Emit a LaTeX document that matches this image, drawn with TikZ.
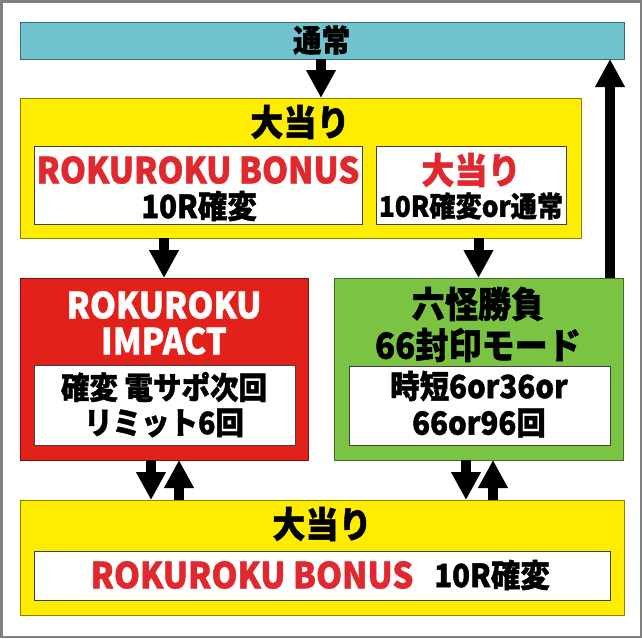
\documentclass[tikz,border=0pt]{standalone}
\usepackage{fontspec}
\setmainfont{Noto Sans CJK JP}[FakeStretch=0.92,FakeBold=1.2]
\usetikzlibrary{arrows.meta,calc}
\definecolor{cblue}{HTML}{6FC3CF}
\definecolor{cyellow}{HTML}{FFED00}
\definecolor{cred}{HTML}{E3211B}
\definecolor{cgreen}{HTML}{7BC443}
\definecolor{ctred}{HTML}{E1282E}
\newcommand{\fsz}[1]{\fontsize{#1}{#1}\selectfont\bfseries}
\begin{document}
\begin{tikzpicture}[x=1pt,y=-1pt,
  box/.style={fill=#1, draw=#1!55!black, line width=0.9pt, inner sep=0pt, outer sep=0pt, anchor=north west},
  wbox/.style={fill=white, draw=black!75, line width=0.9pt, inner sep=0pt, outer sep=0pt, anchor=north west},
  txt/.style={inner sep=0pt, anchor=center},
  arr/.style={line width=10pt, -{Triangle[width=28pt,length=28pt]}}]
\useasboundingbox (0,0) rectangle (642,638);
\fill[white] (0,0) rectangle (642,638);
\draw[black!50, line width=2.5pt] (1.25,1.25) rectangle (640.75,636.75);
% boxes
\node[box=cblue, minimum width=604pt, minimum height=37pt] (tsujo) at (20,22) {};
\node[box=cyellow, minimum width=561pt, minimum height=140pt] (oa1) at (20,98) {};
\node[wbox, minimum width=328pt, minimum height=78pt] (w1) at (34,146) {};
\node[wbox, minimum width=190pt, minimum height=78pt] (w2) at (376,146) {};
\node[box=cred, minimum width=288pt, minimum height=182pt] (red) at (20,278) {};
\node[wbox, minimum width=261pt, minimum height=80pt] (wr) at (34,365) {};
\node[box=cgreen, minimum width=289pt, minimum height=182pt] (green) at (334,278) {};
\node[wbox, minimum width=261pt, minimum height=79pt] (wg) at (349,366) {};
\node[box=cyellow, minimum width=604pt, minimum height=115pt] (oa2) at (20,500) {};
\node[wbox, minimum width=576pt, minimum height=49pt] (w3) at (34,551) {};
% texts
\node[txt] (t1) at (321.5,40) {\fsz{31}通常};
\node[txt] (t2) at (300,122) {\fsz{36}大当り};
\node[txt, text=ctred] (t3) at (198,170) {\fsz{36}ROKUROKU BONUS};
\node[txt] (t4) at (199,206) {\fsz{32}10R確変};
\node[txt, text=ctred] (t5) at (471,170) {\fsz{36}大当り};
\node[txt] (t6) at (471,206) {\fsz{28.5}10R確変or通常};
\node[txt, text=white] (t7) at (164,305) {\fsz{36}ROKUROKU};
\node[txt, text=white] (t8) at (164,341) {\fsz{36}IMPACT};
\node[txt] (t9) at (164,387) {\fsz{31}確変 電サポ次回};
\node[txt] (t10) at (164,423) {\fsz{31}リミット6回};
\node[txt] (t11) at (478,304) {\fsz{36}六怪勝負};
\node[txt] (t12) at (478,345) {\fsz{36}66封印モード};
\node[txt] (t13) at (479,386) {\fsz{32}時短6or36or};
\node[txt] (t14) at (479,423) {\fsz{32}66or96回};
\node[txt] (t15) at (322,524) {\fsz{36}大当り};
\node[txt, text=ctred] (t16) at (252,575) {\fsz{36}ROKUROKU BONUS};
\node[txt] (t17) at (492,575) {\fsz{32}10R確変};
% arrows
\coordinate (a1) at ($(tsujo.south)+(-1,0)$);
\draw[arr] (a1) -- (a1 |- oa1.north);
\draw[arr] (red.north |- oa1.south) -- (red.north);
\draw[arr] (green.north |- oa1.south) -- (green.north);
\coordinate (a2) at ($(green.north east)+(-13,0)$);
\draw[arr] (a2) -- (a2 |- tsujo.south);
\coordinate (a3) at ($(red.south)+(-13,0)$);
\coordinate (a4) at ($(red.south)+(15,0)$);
\draw[arr] (a3) -- (a3 |- oa2.north);
\draw[arr] (a4 |- oa2.north) -- (a4);
\coordinate (a5) at ($(green.south)+(-12.5,0)$);
\coordinate (a6) at ($(green.south)+(14.5,0)$);
\draw[arr] (a5) -- (a5 |- oa2.north);
\draw[arr] (a6 |- oa2.north) -- (a6);
\end{tikzpicture}
\end{document}
